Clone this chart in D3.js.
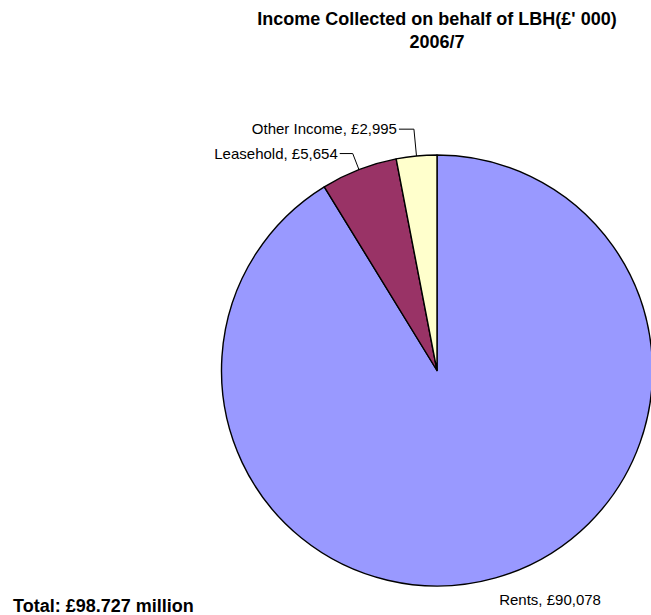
<!DOCTYPE html>
<html>
<head>
<meta charset="utf-8">
<script src="https://cdn.jsdelivr.net/npm/d3@7"></script>
<style>
  body { margin: 0; background: #fff; }
  svg { display: block; font-family: Arial, "Liberation Sans", sans-serif; }
</style>
</head>
<body>
<svg width="651" height="615"></svg>
<script>
/* income pie chart */

// DATA ////////////////////////////////////////////////////////////////////////
const categories = ['Rents', 'Leasehold', 'Other Income'];
const values = [90078, 5654, 2995];
const colours = ['#9999FF', '#993366', '#FFFFCC'];
const titleLines = ["Income Collected on behalf of LBH(£' 000)", '2006/7'];
const totalText = 'Total: £98.727 million';

// SET PARAMETERS //////////////////////////////////////////////////////////////
const svg = d3.select('svg');
const cx = 437;
const cy = 370.5;
const radius = 215.5;

const g = svg.append('g').attr('transform', `translate(${cx},${cy})`);

const pie = d3
  .pie()
  .sort(null)
  .value(d => d.value);

const arc = d3.arc().innerRadius(0).outerRadius(radius);

const data = categories.map((c, i) => ({ name: c, value: values[i], colour: colours[i] }));
const arcs = pie(data);

const fmt = d3.format(',');

// label layout: leader elbow radius factor, or none for plain labels
const labelLayout = {
  Rents: { leader: false, r: 1.13, dx: -4, dy: 0 },
  Leasehold: { leader: true, r: 1.08, tail: 13 },
  'Other Income': { leader: true, r: 1.125, tail: 15 }
};

// DRAW ////////////////////////////////////////////////////////////////////////
g.selectAll('path.slice')
  .data(arcs)
  .enter()
  .append('path')
  .attr('class', 'slice')
  .attr('d', arc)
  .attr('fill', d => d.data.colour)
  .attr('stroke', '#000')
  .attr('stroke-width', 1.4)
  .attr('stroke-linejoin', 'round');

// point on a ray through the middle of the slice
function ray(d, k) {
  const a = (d.startAngle + d.endAngle) / 2;
  return [Math.sin(a) * radius * k, -Math.cos(a) * radius * k];
}

arcs.forEach(d => {
  const lay = labelLayout[d.data.name];
  const label = `${d.data.name}, £${fmt(d.data.value)}`;
  if (lay.leader) {
    const p0 = ray(d, 1);
    const p1 = ray(d, lay.r);
    const p2 = [p1[0] - lay.tail, p1[1]];
    g.append('polyline')
      .attr('points', [p0, p1, p2].map(p => p.join(',')).join(' '))
      .attr('fill', 'none')
      .attr('stroke', '#000')
      .attr('stroke-width', 1);
    g.append('text')
      .attr('x', p2[0] - 2)
      .attr('y', p2[1])
      .attr('dy', '0.35em')
      .attr('text-anchor', 'end')
      .style('font-size', '15px')
      .text(label);
  } else {
    const p = ray(d, lay.r);
    g.append('text')
      .attr('x', p[0] + lay.dx)
      .attr('y', p[1] + lay.dy)
      .attr('text-anchor', 'start')
      .style('font-size', '15px')
      .text(label);
  }
});

// title
svg
  .selectAll('text.title')
  .data(titleLines)
  .enter()
  .append('text')
  .attr('class', 'title')
  .attr('x', 437)
  .attr('y', (d, i) => 25 + i * 23)
  .attr('text-anchor', 'middle')
  .style('font-size', '18px')
  .style('font-weight', 'bold')
  .text(d => d);

// total
svg
  .append('text')
  .attr('x', 13)
  .attr('y', 612)
  .style('font-size', '18px')
  .style('font-weight', 'bold')
  .text(totalText);
</script>
</body>
</html>
